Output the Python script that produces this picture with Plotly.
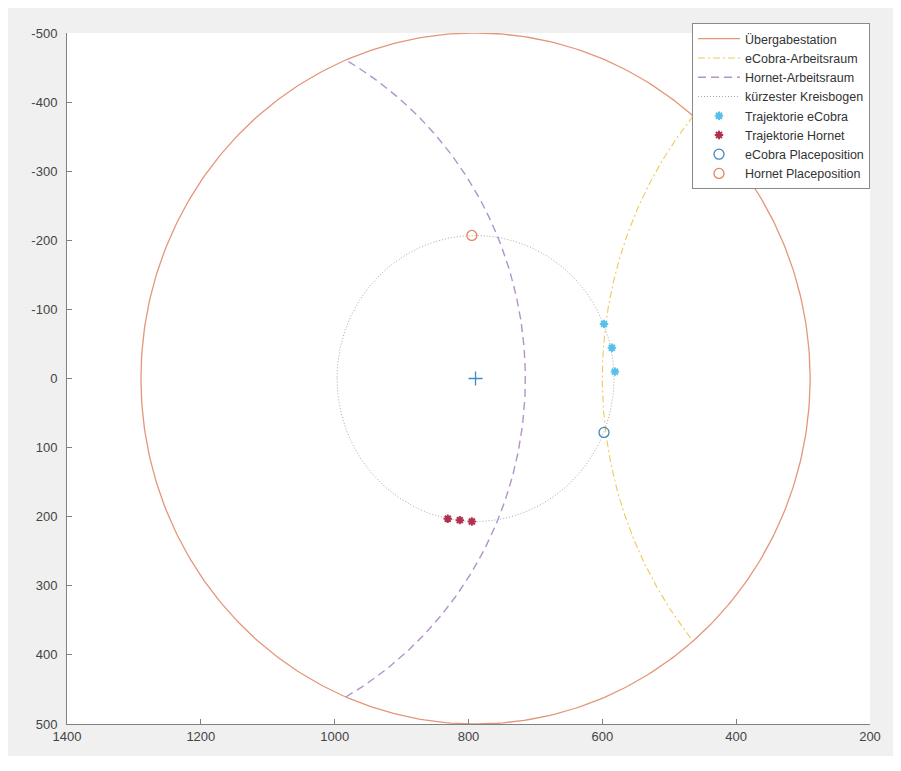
import numpy as np
import plotly.graph_objects as go

# ---- data ----
# circles: centre (x, y) and radius
station_center = [789.5, 0.0]
station_radius = 500.0
ecobra_center = [0.0, 0.0]
ecobra_radius = 600.0
hornet_center = [1245.0, 0.0]
hornet_radius = 530.0
arc_center = [789.5, 0.0]
arc_radius = 207.0

# markers
traj_ecobra_x = [597.5, 585.7, 581.2]
traj_ecobra_y = [-79.0, -44.5, -10.0]
traj_hornet_x = [831.0, 813.0, 795.0]
traj_hornet_y = [203.0, 205.0, 207.0]
ecobra_place_x = [597.5]
ecobra_place_y = [78.0]
hornet_place_x = [795.0]
hornet_place_y = [-207.0]
center_mark_x = [789.5]
center_mark_y = [0.0]

# axis ticks
x_ticks = [1400, 1200, 1000, 800, 600, 400, 200]
y_ticks = [-500, -400, -300, -200, -100, 0, 100, 200, 300, 400, 500]

names = ["Übergabestation", "eCobra-Arbeitsraum", "Hornet-Arbeitsraum",
         "kürzester Kreisbogen", "Trajektorie eCobra", "Trajektorie Hornet",
         "eCobra Placeposition", "Hornet Placeposition"]


def intersect_angle(c1, r1, c2, r2):
    """angle (deg) on circle 1 of the upper intersection with circle 2"""
    d = abs(c2[0] - c1[0])
    a = (r1 ** 2 - r2 ** 2 + d ** 2) / (2 * d)
    h = np.sqrt(r1 ** 2 - a ** 2)
    sx = np.sign(c2[0] - c1[0])
    return np.degrees(np.arctan2(h, sx * a))


def circle_pts(c, r, t0, t1, n=400):
    t = np.radians(np.linspace(t0, t1, n))
    return c[0] + r * np.cos(t), c[1] + r * np.sin(t)


sx, sy = circle_pts(station_center, station_radius, 0, 360)
ea = intersect_angle(ecobra_center, ecobra_radius, station_center, station_radius)
ex, ey = circle_pts(ecobra_center, ecobra_radius, -ea, ea)
ha = intersect_angle(hornet_center, hornet_radius, station_center, station_radius)
hx, hy = circle_pts(hornet_center, hornet_radius, ha, 360 - ha)
kx, ky = circle_pts(arc_center, arc_radius, 0, 360)

c_orange = "#e4967a"
fig = go.Figure()
fig.add_trace(go.Scatter(x=sx, y=sy, mode="lines", name=names[0],
                         line=dict(color=c_orange, width=1.3)))
fig.add_trace(go.Scatter(x=ex, y=ey, mode="lines", name=names[1],
                         line=dict(color="#f0c95a", width=1.1, dash="7px,3px,2px,3px")))
fig.add_trace(go.Scatter(x=hx, y=hy, mode="lines", name=names[2],
                         line=dict(color="#b094cc", width=1.4, dash="8px,5px")))
fig.add_trace(go.Scatter(x=kx, y=ky, mode="lines", name=names[3],
                         line=dict(color="#a8a8a8", width=1, dash="1px,2px")))
fig.add_trace(go.Scatter(x=traj_ecobra_x, y=traj_ecobra_y, mode="markers", name=names[4],
                         marker=dict(symbol="asterisk-open", size=7, color="#55c0ec",
                                     line=dict(color="#55c0ec", width=2))))
fig.add_trace(go.Scatter(x=traj_hornet_x, y=traj_hornet_y, mode="markers", name=names[5],
                         marker=dict(symbol="asterisk-open", size=7, color="#b0304d",
                                     line=dict(color="#b0304d", width=2))))
fig.add_trace(go.Scatter(x=ecobra_place_x, y=ecobra_place_y, mode="markers", name=names[6],
                         marker=dict(symbol="circle-open", size=10, color="#3f86bf",
                                     line=dict(color="#3f86bf", width=1.3))))
fig.add_trace(go.Scatter(x=hornet_place_x, y=hornet_place_y, mode="markers", name=names[7],
                         marker=dict(symbol="circle-open", size=10, color="#e08660",
                                     line=dict(color="#e08660", width=1.3))))
fig.add_trace(go.Scatter(x=center_mark_x, y=center_mark_y, mode="markers", showlegend=False,
                         marker=dict(symbol="cross-thin-open", size=10, color="#3a8ad0",
                                     line=dict(color="#3a8ad0", width=1.3))))

# page is offset by the 8px body margin
W, H = 885, 748
L, R, T, B = 59, 868, 25, 721

fig.update_layout(
    width=W, height=H, autosize=False,
    margin=dict(l=L, r=W - R, t=T, b=H - B, pad=0),
    paper_bgcolor="#f0f0f0", plot_bgcolor="#ffffff",
    font=dict(family="Liberation Sans, Arial, sans-serif", size=13, color="#444444"),
    legend=dict(x=1.0, xanchor="right", y=1 + (T - 15) / (B - T), yanchor="top",
                bgcolor="#ffffff", bordercolor="#8a8a8a", borderwidth=1,
                itemwidth=42,
                font=dict(size=12.5, color="#333333"), tracegroupgap=0),
)
fig.update_xaxes(range=[1400, 200], tickvals=x_ticks, ticktext=[str(v) for v in x_ticks],
                 showgrid=False, zeroline=False, showline=True, linecolor="#808080", linewidth=1,
                 ticks="inside", ticklen=5, tickcolor="#808080", mirror=False)
fig.update_yaxes(range=[500, -500], tickvals=y_ticks, ticktext=[str(v) for v in y_ticks],
                 showgrid=False, zeroline=False, showline=True, linecolor="#808080", linewidth=1,
                 ticks="inside", ticklen=5, tickcolor="#808080", mirror=False,
                 ticklabelstandoff=6)

fig.write_html("out.html")
